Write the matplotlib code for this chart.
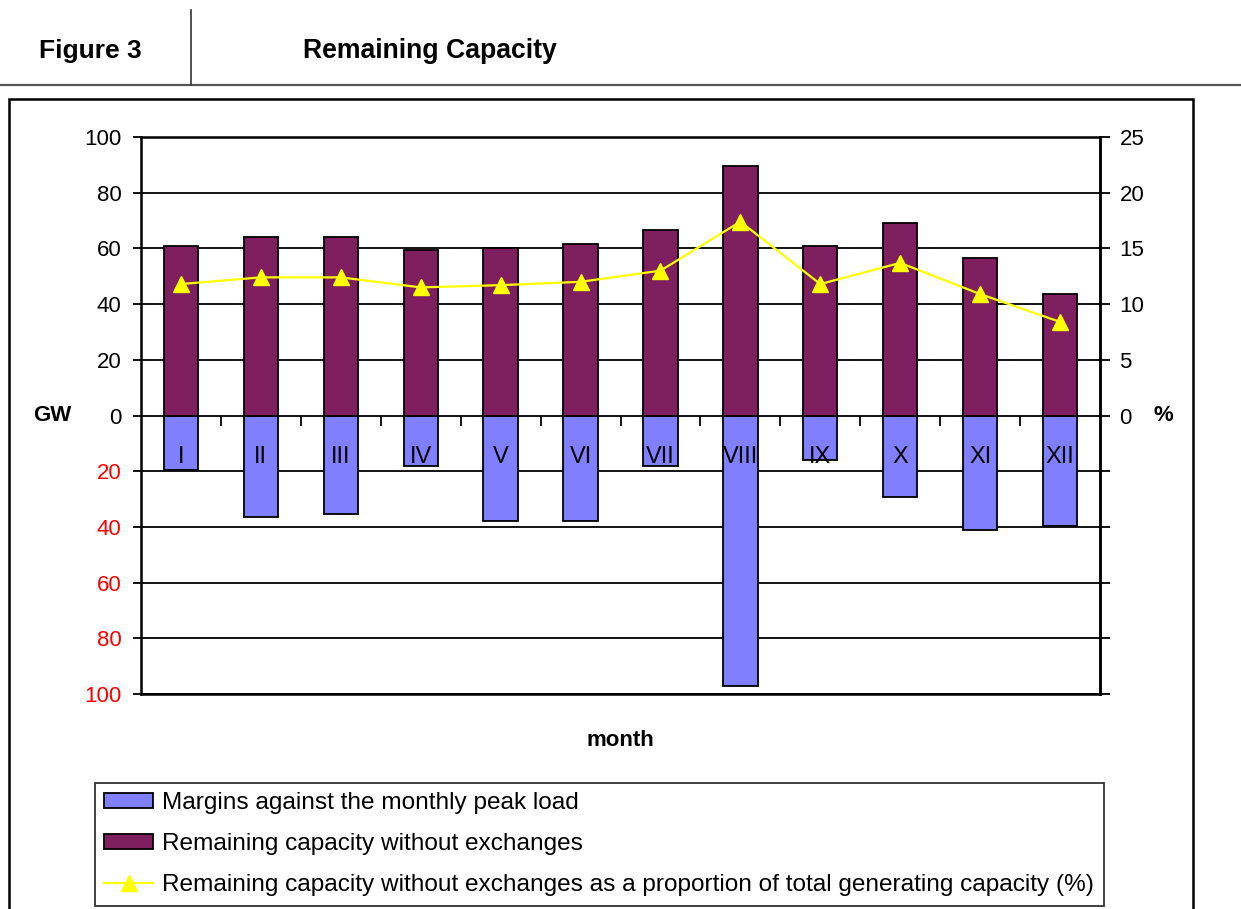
import matplotlib
matplotlib.use("Agg")
import matplotlib.pyplot as plt
import matplotlib.transforms as mtransforms
from matplotlib.lines import Line2D
from matplotlib.patches import Rectangle, Patch
import numpy as np

plt.rcParams['font.family'] = ['Liberation Sans', 'DejaVu Sans']

months = ["I", "II", "III", "IV", "V", "VI", "VII", "VIII", "IX", "X", "XI", "XII"]
remaining = [61, 64, 64, 59.5, 60, 61.5, 66.5, 89.5, 61, 69, 56.5, 43.5]
margins = [19.4, 36.6, 35.2, 18, 38, 38, 18.3, 97, 15.8, 29.4, 41, 39.5]
share_pct = [11.8, 12.4, 12.4, 11.5, 11.7, 12.0, 13.0, 17.4, 11.8, 13.7, 10.9, 8.4]

left_ticks = [-100, -80, -60, -40, -20, 0, 20, 40, 60, 80, 100]
right_ticks = [-25, -20, -15, -10, -5, 0, 5, 10, 15, 20, 25]

lab_margins = "Margins against the monthly peak load"
lab_remaining = "Remaining capacity without exchanges"
lab_share = "Remaining capacity without exchanges as a proportion of total generating capacity (%)"

col_blue = "#8080FF"
col_purple = "#7F1F5F"
col_yellow = "#FFFF00"

W, H = 1241, 909
fig = plt.figure(figsize=(W / 100, H / 100), dpi=100)

def fx(px):
    return px / W

def fy(py):
    return 1 - py / H

# header
fig.add_artist(Line2D([0, 1], [fy(85), fy(85)], color="#555555", lw=1.6))
fig.add_artist(Line2D([fx(191), fx(191)], [fy(10), fy(85)], color="#333333", lw=1.2))
fig.text(fx(90), fy(51), "Figure 3", ha="center", va="center", fontsize=19, fontweight="bold")
fig.text(fx(303), fy(51), "Remaining Capacity", ha="left", va="center", fontsize=19.2, fontweight="bold")

# outer chart box
fig.add_artist(Rectangle((fx(9), fy(915)), fx(1193 - 9), fy(99) - fy(915),
                         fill=False, edgecolor="black", lw=1.8))

ax = fig.add_axes([fx(141), fy(694), fx(1100 - 141), fy(137) - fy(694)])
x = np.arange(len(months))

ax.set_xlim(-0.5, len(months) - 0.5)
ax.set_ylim(-100, 100)

for v in left_ticks:
    if v not in (0, 100):
        ax.axhline(v, color="black", lw=1.3, zorder=0.5)

bw = 0.43
ax.bar(x, remaining, width=bw, color=col_purple, edgecolor="black", lw=1.3, zorder=2)
ax.bar(x, [-m for m in margins], width=bw, color=col_blue, edgecolor="black", lw=1.3, zorder=2)

ax.set_axisbelow(False)
ax.spines['bottom'].set_position(('data', 0))
for s in ['left', 'top', 'right']:
    ax.spines[s].set_linewidth(1.8)
ax.spines['bottom'].set_linewidth(1.3)

ax.set_xticks(x)
ax.set_xticklabels(months, fontsize=17)
ax.tick_params(axis='x', which='major', length=0, pad=22)
ax.set_xticks(np.arange(len(months) - 1) + 0.5, minor=True)
ax.tick_params(axis='x', which='minor', length=7, width=1.3, direction='out')

ax.set_yticks(left_ticks)
ax.set_yticklabels([str(abs(v)) for v in left_ticks], fontsize=16)
for lbl, v in zip(ax.get_yticklabels(), left_ticks):
    if v < 0:
        lbl.set_color("red")
ax.tick_params(axis='y', length=6, width=1.3, direction='out', pad=8)

trans_y = mtransforms.blended_transform_factory(ax.transAxes, ax.transData)
ax.text(-0.093, 0, "GW", transform=trans_y, ha="center", va="center",
        fontsize=16, fontweight="bold")
ax.text(1.066, 0, "%", transform=trans_y, ha="center", va="center",
        fontsize=16, fontweight="bold")

ax2 = ax.twinx()
ax2.set_ylim(-25, 25)
ax2.plot(x, share_pct, color=col_yellow, lw=1.6, marker="^", markersize=11,
         markeredgecolor=col_yellow, zorder=3)
for s in ['left', 'top', 'bottom']:
    ax2.spines[s].set_visible(False)
ax2.spines['right'].set_linewidth(1.8)
ax2.set_yticks(right_ticks)
ax2.set_yticklabels([str(v) if v >= 0 else "" for v in right_ticks], fontsize=16)
ax2.tick_params(axis='y', length=7, width=1.3, direction='out', pad=7)

# bottom frame line of plot area
ax.axhline(-100, color="black", lw=1.8, clip_on=False, zorder=3)

fig.text(fx(620), fy(741), "month", ha="center", va="center", fontsize=16, fontweight="bold")

handles = [
    Patch(facecolor=col_blue, edgecolor="black", lw=1.3),
    Patch(facecolor=col_purple, edgecolor="black", lw=1.3),
    Line2D([0], [0], color=col_yellow, lw=1.6, marker="^", markersize=11,
           markeredgecolor=col_yellow),
]
leg = fig.legend(handles, [lab_margins, lab_remaining, lab_share],
                 loc="upper left",
                 bbox_to_anchor=(fx(95), fy(906), fx(1104 - 95), fy(783) - fy(906)),
                 mode="expand", fontsize=17.6, frameon=True, fancybox=False,
                 borderaxespad=0, handlelength=2.0, handleheight=0.58,
                 handletextpad=0.37, labelspacing=0.78, borderpad=0.38)
leg.get_frame().set_edgecolor("black")
leg.get_frame().set_linewidth(1.3)

fig.savefig("out.png", dpi=100)
